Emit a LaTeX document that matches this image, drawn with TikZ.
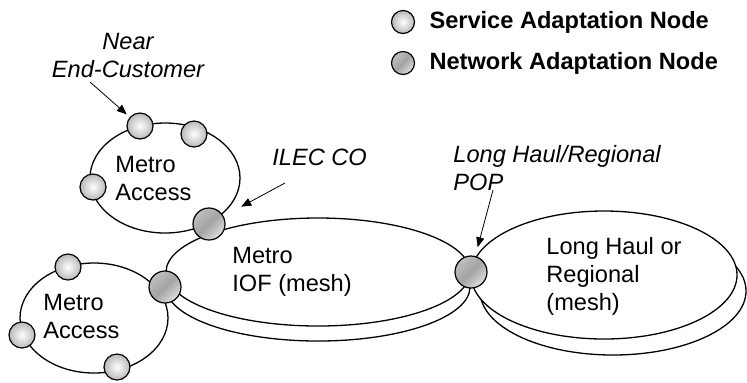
\documentclass[tikz,border=0pt]{standalone}
\usepackage{fontspec}
\setmainfont{Liberation Sans}
\usetikzlibrary{positioning,arrows.meta}

\begin{document}
\begin{tikzpicture}[x=0.5pt, y=-0.5pt,
  node distance=7pt,
  lbl/.style={font=\fontsize{11.8}{14}\selectfont, inner sep=0pt, align=left},
  note/.style={lbl, font=\fontsize{11.8}{14}\selectfont\itshape},
  key/.style={lbl, font=\fontsize{11.8}{14}\selectfont\bfseries},
  sa/.style={circle, draw, line width=0.6pt, minimum size=13pt, inner sep=0pt, inner color=white, outer color=gray!55},
  na/.style={circle, draw, line width=0.6pt, minimum size=16pt, inner sep=0pt, top color=gray!50, bottom color=gray!25, middle color=gray!72, shading angle=45},
  ring/.style={draw, fill=white, line width=0.65pt},
  arr/.style={-{Triangle[length=5pt,width=4pt]}, line width=0.4pt}]
\useasboundingbox (0,0) rectangle (747,382);
\draw[ring] (318,287) ellipse [x radius=152, y radius=54];
\draw[ring] (613,291) ellipse [x radius=133, y radius=64];
\draw[ring] (318,272) ellipse [x radius=152, y radius=54];
\draw[ring] (604,275) ellipse [x radius=133, y radius=64];
\draw[ring] (165,178) ellipse [x radius=75, y radius=55];
\draw[ring] (94,318) ellipse [x radius=74, y radius=55];
\node[sa] (sa1) at (140,126) {}; \node[sa] (sa2) at (194,134) {}; \node[sa] (sa3) at (93,187) {};
\node[sa] (sa4) at (68,267) {}; \node[sa] (sa5) at (22,335) {}; \node[sa] (sa6) at (117,367) {};
\node[na] (nau) at (209,224) {}; \node[na] (nal) at (165,287) {}; \node[na] (pop) at (471,272) {};
\node[lbl, anchor=base west] (mau) at (115,200) {Metro\\Access};
\node[lbl, anchor=base west] (mal) at (43,338) {Metro\\Access};
\node[lbl, anchor=base west] (iof) at (232,291) {Metro\\IOF (mesh)};
\node[lbl, anchor=base west] (lh) at (546,310) {Long Haul or\\Regional\\(mesh)};
\node[note, align=center, anchor=base] (near) at (128,77) {Near\\End-Customer};
\node[note, anchor=base west] (ilec) at (272,165) {ILEC CO};
\node[note, anchor=base west] (lhpop) at (453,190) {Long Haul/Regional\\POP};
\node[sa, minimum size=11.5pt] (lsa) at (403,22) {};
\node[na, minimum size=11.5pt] (lna) at (403,63) {};
\node[key, right=7pt of lsa] (lsat) {Service Adaptation Node};
\node[key, right=7pt of lna] (lnat) {Network Adaptation Node};
\coordinate (nearfrom) at (90,82); \coordinate (ilecfrom) at (285,183); \coordinate (popfrom) at (493,190);
\draw[arr, shorten >=2pt] (nearfrom) -- (sa1);
\draw[arr, shorten >=10pt] (ilecfrom) -- (nau);
\draw[arr, shorten >=4.5pt] (popfrom) -- (pop);
\end{tikzpicture}
\end{document}
